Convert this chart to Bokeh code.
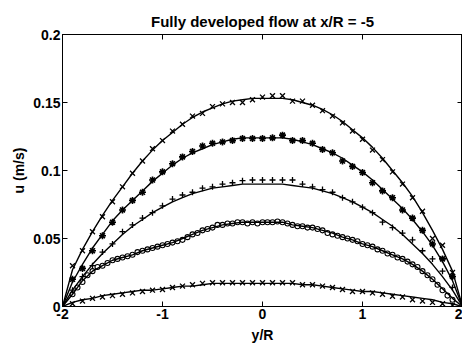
import numpy as np
from bokeh.plotting import figure
from bokeh.models import LinearAxis, FixedTicker
from bokeh.embed import file_html
from bokeh.resources import INLINE

# ---- data ----
line_x = np.round(np.linspace(-2, 2, 41), 2)      # fit lines sampled every 0.1 y/R
mark_x = np.round(np.linspace(-1.9, 1.9, 39), 2)  # marker positions (0.1 spacing)
circ_x = np.round(np.linspace(-1.9, 1.9, 77), 3)  # circle marker positions (0.05 spacing)

fit1 = [0, 0.027, 0.042, 0.055, 0.067, 0.078, 0.088, 0.098, 0.107, 0.115, 0.122,
        0.128, 0.134, 0.139, 0.143, 0.146, 0.149, 0.151, 0.152, 0.153, 0.153,
        0.153, 0.153, 0.152, 0.150, 0.148, 0.145, 0.141, 0.136, 0.130, 0.124,
        0.117, 0.109, 0.100, 0.091, 0.081, 0.069, 0.056, 0.042, 0.026, 0]
fit2 = [0, 0.018, 0.031, 0.043, 0.053, 0.063, 0.071, 0.078, 0.085, 0.092, 0.098,
        0.104, 0.109, 0.113, 0.116, 0.119, 0.121, 0.123, 0.124, 0.124, 0.124,
        0.124, 0.124, 0.123, 0.121, 0.119, 0.116, 0.113, 0.109, 0.104, 0.099,
        0.093, 0.086, 0.079, 0.072, 0.064, 0.055, 0.045, 0.033, 0.019, 0]
fit3 = [0, 0.012, 0.022, 0.031, 0.039, 0.046, 0.053, 0.059, 0.064, 0.069, 0.073,
        0.077, 0.080, 0.083, 0.085, 0.087, 0.088, 0.089, 0.090, 0.090, 0.090,
        0.090, 0.090, 0.089, 0.088, 0.087, 0.085, 0.083, 0.080, 0.077, 0.073,
        0.069, 0.064, 0.059, 0.053, 0.046, 0.039, 0.031, 0.022, 0.012, 0]
fit4 = [0, 0.009, 0.019, 0.026, 0.030, 0.034, 0.036, 0.038, 0.041, 0.043, 0.045,
        0.047, 0.050, 0.053, 0.056, 0.058, 0.060, 0.061, 0.062, 0.062, 0.062,
        0.062, 0.062, 0.060, 0.059, 0.058, 0.056, 0.054, 0.051, 0.049, 0.046,
        0.044, 0.041, 0.038, 0.035, 0.031, 0.026, 0.020, 0.013, 0.006, 0]
fit5 = [0, 0.003, 0.005, 0.006, 0.008, 0.009, 0.010, 0.011, 0.012, 0.012, 0.013,
        0.014, 0.015, 0.015, 0.016, 0.017, 0.017, 0.017, 0.017, 0.017, 0.017,
        0.017, 0.017, 0.017, 0.016, 0.016, 0.015, 0.014, 0.013, 0.012, 0.011,
        0.011, 0.010, 0.009, 0.008, 0.007, 0.006, 0.005, 0.003, 0.002, 0]

meas1 = [0.030, 0.041, 0.055, 0.066, 0.077, 0.088, 0.098, 0.107, 0.116, 0.122,
         0.129, 0.134, 0.140, 0.142, 0.147, 0.149, 0.150, 0.150, 0.152, 0.154,
         0.155, 0.155, 0.151, 0.151, 0.148, 0.144, 0.140, 0.135, 0.129, 0.123,
         0.115, 0.108, 0.099, 0.090, 0.080, 0.070, 0.050, 0.045, 0.025]
meas2 = [0.020, 0.028, 0.041, 0.052, 0.062, 0.071, 0.078, 0.084, 0.093, 0.099,
         0.105, 0.110, 0.114, 0.118, 0.120, 0.121, 0.122, 0.1235, 0.1235, 0.1235,
         0.124, 0.126, 0.122, 0.122, 0.120, 0.1155, 0.113, 0.107, 0.103, 0.0985,
         0.091, 0.085, 0.080, 0.071, 0.065, 0.056, 0.046, 0.035, 0.022]
meas3 = [0.012, 0.022, 0.030, 0.040, 0.046, 0.055, 0.060, 0.065, 0.069, 0.074,
         0.079, 0.082, 0.084, 0.087, 0.088, 0.090, 0.091, 0.0925, 0.093, 0.093,
         0.093, 0.093, 0.093, 0.090, 0.088, 0.086, 0.084, 0.080, 0.077, 0.073,
         0.069, 0.062, 0.058, 0.054, 0.049, 0.041, 0.035, 0.026, 0.014]
meas4 = [0.009, 0.014, 0.018, 0.023, 0.026, 0.029, 0.030, 0.032, 0.034, 0.035,
         0.036, 0.037, 0.038, 0.040, 0.041, 0.042, 0.043, 0.044, 0.045, 0.046,
         0.047, 0.048, 0.049, 0.051, 0.053, 0.054, 0.056, 0.057, 0.058, 0.060,
         0.060, 0.061, 0.061, 0.062, 0.062, 0.061, 0.062, 0.061, 0.062, 0.062,
         0.062, 0.0625, 0.062, 0.061, 0.060, 0.059, 0.059, 0.058, 0.058, 0.057,
         0.056, 0.054, 0.053, 0.052, 0.051, 0.050, 0.049, 0.048, 0.046, 0.045,
         0.044, 0.042, 0.041, 0.039, 0.038, 0.036, 0.035, 0.033, 0.031, 0.029,
         0.026, 0.023, 0.020, 0.016, 0.012, 0.008, 0.005]
meas5 = [0.002, 0.004, 0.006, 0.007, 0.008, 0.009, 0.010, 0.011, 0.012, 0.0125,
         0.014, 0.015, 0.016, 0.017, 0.0175, 0.0175, 0.0175, 0.0175, 0.0175, 0.0175,
         0.0175, 0.0175, 0.0175, 0.016, 0.016, 0.015, 0.014, 0.0125, 0.011, 0.011,
         0.010, 0.009, 0.0075, 0.007, 0.005, 0.004, 0.003, 0.002, 0.001]

x_ticks = [-2, -1, 0, 1, 2]
x_tick_labels = ["-2", "-1", "0", "1", "2"]
y_ticks = [0, 0.05, 0.1, 0.15, 0.2]
y_tick_labels = ["0", "0.05", "0.1", "0.15", "0.2"]

FONT = "Liberation Sans"

p = figure(width=462, height=347, x_range=(-2, 2), y_range=(0, 0.2),
           output_backend="svg", toolbar_location=None,
           min_border_left=62, min_border_right=0, min_border_top=34,
           min_border_bottom=41, background_fill_color="white",
           border_fill_color="white")
p.outline_line_color = "black"
p.outline_line_width = 1
p.xgrid.visible = False
p.ygrid.visible = False

p.title.text = "Fully developed flow at x/R = -5"
p.title.align = "center"
p.title.text_font = FONT
p.title.text_font_size = "15px"
p.title.text_font_style = "bold"
p.title.text_color = "black"

# fit lines
for fit in (fit1, fit2, fit3, fit4, fit5):
    p.line(line_x, fit, line_color="black", line_width=1.4)

# measured points
p.scatter(mark_x, meas1, marker="x", size=7, line_color="black", line_width=1.3)
p.scatter(mark_x, meas2, marker="asterisk", size=7, line_color="black", line_width=1.6)
p.scatter(mark_x, meas3, marker="cross", size=6, line_color="black", line_width=1.3)
p.scatter(circ_x, meas4, marker="circle", size=5, line_color="black",
          fill_color=None, line_width=1.1)
p.scatter(mark_x, meas5, marker="x", size=7, line_color="black", line_width=1.3)

def style_axis(ax, show_labels):
    ax.major_tick_in = 5
    ax.major_tick_out = 0
    ax.minor_tick_line_color = None
    ax.axis_line_color = "black"
    ax.major_tick_line_color = "black"
    if show_labels:
        ax.major_label_text_font = FONT
        ax.major_label_text_font_size = "14px"
        ax.major_label_text_font_style = "bold"
        ax.major_label_text_color = "black"
        ax.axis_label_text_font = FONT
        ax.axis_label_text_font_size = "14px"
        ax.axis_label_text_font_style = "bold"
        ax.axis_label_text_color = "black"
    else:
        ax.major_label_text_font_size = "1px"
        ax.major_label_text_color = None
        ax.major_label_standoff = 0

xa = p.xaxis[0]
xa.ticker = FixedTicker(ticks=x_ticks)
xa.major_label_overrides = {t: s for t, s in zip(x_ticks, x_tick_labels)}
xa.axis_label = "y/R"
style_axis(xa, True)
xa.major_label_standoff = 2
xa.axis_label_standoff = 5

ya = p.yaxis[0]
ya.ticker = FixedTicker(ticks=y_ticks)
ya.major_label_overrides = {t: s for t, s in zip(y_ticks, y_tick_labels)}
ya.axis_label = "u (m/s)"
style_axis(ya, True)
ya.major_label_standoff = 2
ya.axis_label_standoff = 3

top = LinearAxis(ticker=FixedTicker(ticks=x_ticks))
style_axis(top, False)
p.add_layout(top, "above")
right = LinearAxis(ticker=FixedTicker(ticks=y_ticks))
style_axis(right, False)
p.add_layout(right, "right")

open("out.html", "w").write(file_html(p, INLINE))
